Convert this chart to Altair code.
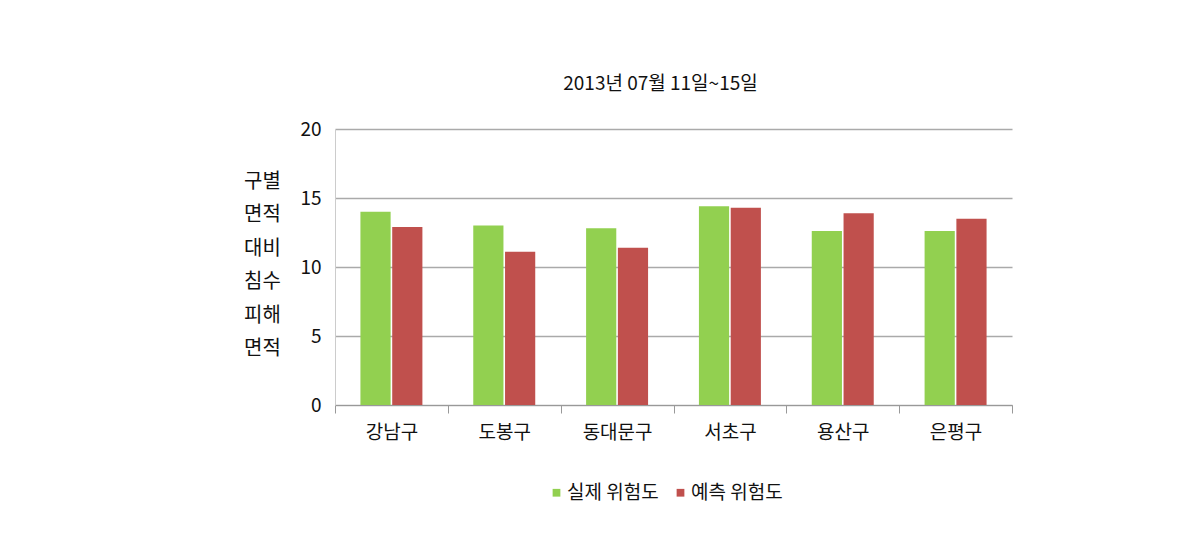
import altair as alt
import pandas as pd

districts = ["강남구", "도봉구", "동대문구", "서초구", "용산구", "은평구"]
actual = [14.0, 13.0, 12.8, 14.4, 12.6, 12.6]
predicted = [12.9, 11.1, 11.4, 14.3, 13.9, 13.5]
series = ["실제 위험도", "예측 위험도"]
colors = ["#92D050", "#C0504D"]

rows = []
for d, a, p in zip(districts, actual, predicted):
    rows.append({"구": d, "계열": series[0], "값": a})
    rows.append({"구": d, "계열": series[1], "값": p})
df = pd.DataFrame(rows)

FONT = "Noto Sans CJK KR"

chart = alt.Chart(df).mark_bar().encode(
    x=alt.X("구:N", sort=districts, title=None,
            scale=alt.Scale(paddingInner=0, paddingOuter=0),
            axis=alt.Axis(labelAngle=0, labelFontSize=19, labelFont=FONT,
                          labelColor="#111", labelPadding=10,
                          tickBand="extent", tickSize=8, tickColor="#999",
                          domainColor="#999", grid=False)),
    xOffset=alt.XOffset("계열:N", sort=series,
                        scale=alt.Scale(paddingInner=0.05, paddingOuter=0.8)),
    y=alt.Y("값:Q", scale=alt.Scale(domain=[0, 20]),
            axis=alt.Axis(values=[0, 5, 10, 15, 20], labelFontSize=19,
                          labelFont=FONT, labelColor="#111", labelPadding=14,
                          tickSize=0, domainColor="#ccc", gridColor="#aaa",
                          gridWidth=1.3,
                          title=["구별", "면적", "대비", "침수", "피해", "면적"],
                          titleAngle=0, titleFontSize=20, titleFont=FONT,
                          titleFontWeight="normal", titleColor="#111",
                          titleAlign="center", titleBaseline="top",
                          titleX=-73, titleY=42, titleLineHeight=33.5)),
    color=alt.Color("계열:N", sort=series,
                    scale=alt.Scale(domain=series, range=colors),
                    legend=alt.Legend(title=None, orient="none",
                                      direction="horizontal",
                                      legendX=212, legendY=354,
                                      symbolType="square", symbolSize=60,
                                      symbolStrokeWidth=0,
                                      labelFontSize=19, labelFont=FONT,
                                      labelColor="#111", columnPadding=12,
                                      labelOffset=1)),
).properties(
    width=677, height=276,
    background="white",
    title=alt.TitleParams("2013년 07월 11일~15일", fontSize=19, font=FONT,
                          fontWeight="normal", color="#111", offset=26,
                          dx=-13),
    padding={"left": 327, "top": 121, "right": 160, "bottom": 110},
    autosize=alt.AutoSizeParams(type="none"),
).configure_view(stroke="transparent", strokeWidth=0)

chart.save("out.html", embed_options={"renderer": "svg", "actions": False})
